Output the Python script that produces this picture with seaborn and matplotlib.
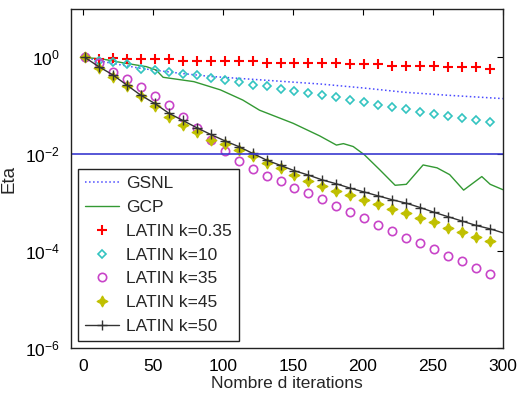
import numpy as np
import matplotlib
matplotlib.use("Agg")
import matplotlib.pyplot as plt
import seaborn as sns

sns.set_theme(style="white")
plt.rcParams['font.family'] = ['Liberation Sans', 'DejaVu Sans']
plt.rcParams['mathtext.fontset'] = 'custom'
plt.rcParams['mathtext.rm'] = 'Liberation Sans'
plt.rcParams['mathtext.it'] = 'Liberation Sans'

# iterations where the LATIN markers sit (every 10 iterations)
iters = list(range(1, 292, 10))

# log10(Eta)
latin_035 = [0, -0.03, -0.02, -0.03, -0.04, -0.04, -0.04, -0.07, -0.07, -0.07,
             -0.08, -0.08, -0.08, -0.11, -0.11, -0.11, -0.12, -0.12, -0.12, -0.14,
             -0.14, -0.14, -0.17, -0.17, -0.17, -0.17, -0.19, -0.19, -0.19, -0.23]
latin_10 = [0, -0.07, -0.10, -0.14, -0.23, -0.26, -0.31, -0.34, -0.36, -0.43,
            -0.47, -0.51, -0.56, -0.60, -0.65, -0.69, -0.74, -0.78, -0.82, -0.88,
            -0.93, -0.98, -1.03, -1.07, -1.12, -1.17, -1.21, -1.25, -1.29, -1.34]
latin_35 = [0, -0.12, -0.30, -0.45, -0.61, -0.80, -0.99, -1.24, -1.46, -1.71,
            -1.93, -2.13, -2.31, -2.45, -2.56, -2.70, -2.80, -2.93, -3.07, -3.20,
            -3.32, -3.46, -3.58, -3.72, -3.84, -3.96, -4.09, -4.21, -4.35, -4.47]
latin_45 = [0, -0.22, -0.40, -0.60, -0.80, -1.00, -1.22, -1.40, -1.53, -1.70,
            -1.78, -1.91, -2.04, -2.19, -2.29, -2.43, -2.55, -2.65, -2.75, -2.84,
            -2.94, -3.03, -3.13, -3.21, -3.31, -3.40, -3.52, -3.60, -3.70, -3.79]
latin_50_it = iters + [300]
latin_50 = [0, -0.19, -0.36, -0.57, -0.78, -0.95, -1.15, -1.30, -1.45, -1.59,
            -1.72, -1.84, -1.98, -2.12, -2.23, -2.34, -2.43, -2.53, -2.61, -2.70,
            -2.78, -2.86, -2.94, -3.01, -3.10, -3.20, -3.29, -3.38, -3.47, -3.54, -3.62]

gsnl_it = [0, 10, 20, 30, 40, 50, 70, 90, 110, 130, 150, 170, 200, 230, 260, 300]
gsnl = [0, -0.06, -0.12, -0.17, -0.22, -0.26, -0.33, -0.39, -0.43, -0.47,
        -0.51, -0.55, -0.63, -0.72, -0.78, -0.85]

gcp_it = [0, 13, 30, 45, 52, 57, 79, 98, 114, 126, 150, 169, 181, 186, 193, 201,
          212, 223, 231, 243, 253, 262, 272, 285, 291, 300]
gcp = [0, -0.03, -0.12, -0.19, -0.26, -0.41, -0.50, -0.67, -0.88, -1.09, -1.36,
       -1.62, -1.81, -1.78, -1.84, -2.01, -2.32, -2.64, -2.62, -2.22, -2.28,
       -2.42, -2.74, -2.46, -2.62, -2.73]

tolerance = 1e-2


def eta(v):
    return 10 ** np.array(v, dtype=float)


fig = plt.figure(figsize=(5.21, 4.0), dpi=100)
ax = fig.add_axes([0.136, 0.13, 0.829, 0.8475])

sns.lineplot(x=gsnl_it, y=eta(gsnl), ax=ax, color='#4a4aff', linestyle=':',
             linewidth=1.1, label='GSNL')
sns.lineplot(x=gcp_it, y=eta(gcp), ax=ax, color='#339933', linewidth=1.0,
             label='GCP')
sns.lineplot(x=iters, y=eta(latin_035), ax=ax, linestyle='none', marker='+',
             markersize=7, markeredgewidth=1.5, color='#ff0000',
             markeredgecolor='#ff0000', label='LATIN k=0.35')
sns.lineplot(x=iters, y=eta(latin_10), ax=ax, linestyle='none', marker='D',
             markersize=4.5, markeredgewidth=1.2, color='#33c4c0',
             markeredgecolor='#33c4c0', markerfacecolor='none',
             label='LATIN k=10')
sns.lineplot(x=iters, y=eta(latin_35), ax=ax, linestyle='none', marker='o',
             markersize=6, markeredgewidth=1.2, color='#c844c8',
             markeredgecolor='#c844c8', markerfacecolor='none',
             label='LATIN k=35')
sns.lineplot(x=iters, y=eta(latin_45), ax=ax, linestyle='none', marker=(4, 1, 0),
             markersize=8, markeredgewidth=0.8, color='#c0c000',
             markeredgecolor='#c0c000', markerfacecolor='#c0c000',
             label='LATIN k=45')
sns.lineplot(x=latin_50_it, y=eta(latin_50), ax=ax, color='#333333',
             linewidth=1.0, marker='+', markersize=7, markeredgewidth=1.0,
             markeredgecolor='#333333', markevery=list(range(len(iters))),
             label='LATIN k=50')
ax.axhline(tolerance, color='#3a3ad0', linewidth=1.2)

ax.set_yscale('log')
ax.set_xlim(-9, 300)
ax.set_ylim(1e-6, 10)
ax.set_xticks(range(0, 301, 50))
ax.set_yticks([1e-6, 1e-4, 1e-2, 1e0])
ax.minorticks_off()
ax.tick_params(direction='in', top=True, right=True, length=4, width=0.8,
               labelsize=12.5, colors='black', pad=8)
for s in ax.spines.values():
    s.set_color('#222222')
    s.set_linewidth(1.0)

ax.set_xlabel('Nombre d iterations', fontsize=12.5, labelpad=1)
ax.set_ylabel('Eta', fontsize=13.5, labelpad=5)

leg = ax.legend(loc='lower left', fontsize=12.5, numpoints=1, handlelength=2.0,
                labelspacing=0.5, borderpad=0.4, handletextpad=0.4,
                borderaxespad=0.4, fancybox=False, framealpha=1)
leg.get_frame().set_edgecolor('#222222')
leg.get_frame().set_linewidth(1.0)

fig.savefig('out.png', dpi=100)
